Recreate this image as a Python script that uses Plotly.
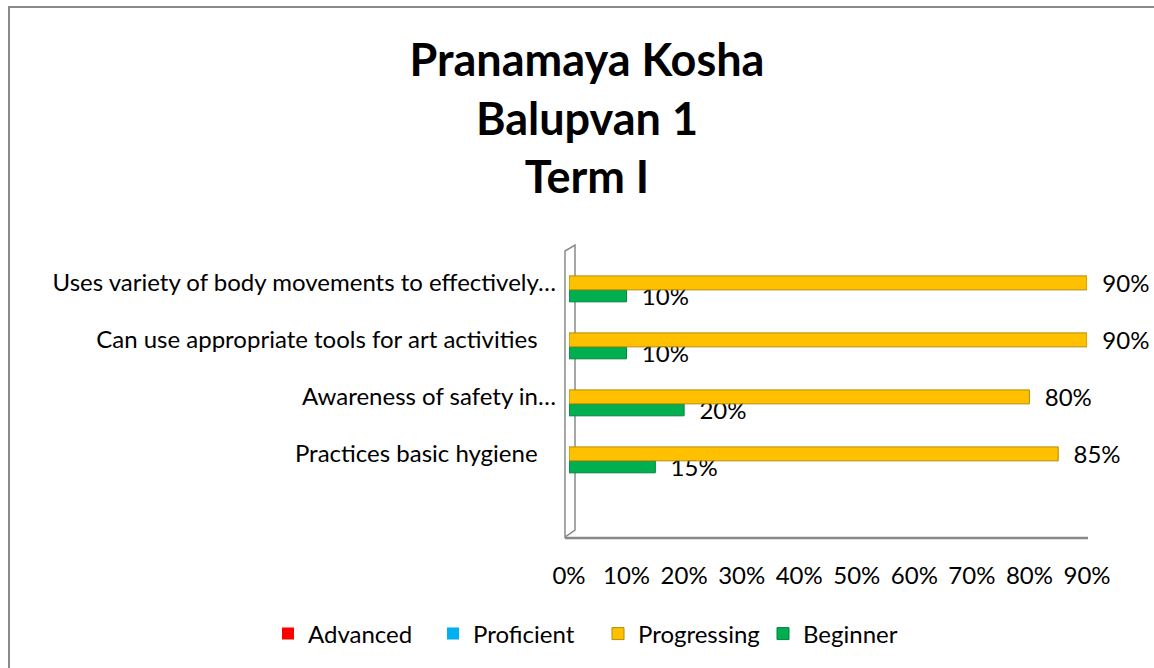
import plotly.graph_objects as go

# ---- data ----
categories = [
    "Practices basic hygiene\u00a0\u00a0\u00a0",
    "Awareness of safety in…",
    "Can use appropriate tools for art activities\u00a0\u00a0\u00a0",
    "Uses variety of body movements to effectively…",
]
advanced = [0, 0, 0, 0]
proficient = [0, 0, 0, 0]
progressing = [0.85, 0.80, 0.90, 0.90]
beginner = [0.15, 0.20, 0.10, 0.10]
x_ticks = [0, 0.1, 0.2, 0.3, 0.4, 0.5, 0.6, 0.7, 0.8, 0.9]
x_tick_labels = ["0%", "10%", "20%", "30%", "40%", "50%", "60%", "70%", "80%", "90%"]

# ---- layout geometry (pixels) ----
WIDTH, HEIGHT = 1154, 668
L, R, T, B = 569, 1087, 245, 537
W, H = R - L, B - T

def px(x):
    return (x - L) / W

def py(y):
    return (B - y) / H

FONT = "Lato"
GRAY = "#8a8a8a"
FS = 24

fig = go.Figure()
fig.add_trace(go.Bar(y=categories, x=advanced, orientation="h", name="Advanced",
                     marker=dict(color="#FF0000", line=dict(width=0)),
                     offset=-0.54, width=0.2, legendrank=1, hoverinfo="skip"))
fig.add_trace(go.Bar(y=categories, x=proficient, orientation="h", name="Proficient",
                     marker=dict(color="#00B0F0", line=dict(width=0)),
                     offset=-0.54, width=0.2, legendrank=2, hoverinfo="skip"))
fig.add_trace(go.Bar(y=categories, x=beginner, orientation="h", name="Beginner",
                     marker=dict(color="#00B050", line=dict(color="#00843C", width=1)),
                     offset=-0.33, width=0.21, legendrank=4,
                     texttemplate="\u00a0\u00a0%{x:.0%}", textposition="outside",
                     textfont=dict(family=FONT, size=FS, color="#000000"),
                     constraintext="none", cliponaxis=False))
fig.add_trace(go.Bar(y=categories, x=progressing, orientation="h", name="Progressing",
                     marker=dict(color="#FFC000", line=dict(color="#B88A00", width=1)),
                     offset=-0.12, width=0.245, legendrank=3,
                     texttemplate="\u00a0\u00a0%{x:.0%}", textposition="outside",
                     textfont=dict(family=FONT, size=FS, color="#000000"),
                     constraintext="none", cliponaxis=False))

shapes = []
# chart border (left and top visible)
shapes.append(dict(type="path", xref="paper", yref="paper",
                   path=f"M {px(9)},{py(700)} L {px(9)},{py(7)} L {px(1170)},{py(7)}",
                   line=dict(color=GRAY, width=2), layer="below"))
# 3D wall
wall = (f"M {px(565)},{py(537)} L {px(565)},{py(251)} L {px(575)},{py(245)} "
        f"L {px(575)},{py(530)} L {px(565)},{py(537)} Z")
shapes.append(dict(type="path", xref="paper", yref="paper", path=wall,
                   line=dict(color=GRAY, width=1.5), fillcolor="rgba(0,0,0,0)", layer="below"))
# floor line
shapes.append(dict(type="line", xref="paper", yref="paper",
                   x0=px(565), y0=py(538), x1=px(1088), y1=py(538),
                   line=dict(color=GRAY, width=2.5), layer="below"))

fig.update_layout(
    width=WIDTH, height=HEIGHT,
    margin=dict(l=L, r=WIDTH - R, t=T, b=HEIGHT - B, autoexpand=False),
    paper_bgcolor="white", plot_bgcolor="white",
    barmode="overlay",
    font=dict(family=FONT, size=FS, color="#000000"),
    title=dict(text="<b>Pranamaya Kosha<br>Balupvan 1<br>Term I</b>",
               font=dict(family=FONT, size=45, color="#000000"),
               x=(412 + 762) / 2 / WIDTH, xanchor="center",
               y=1 - 76 / HEIGHT, yanchor="middle", yref="container"),
    xaxis=dict(range=[0, 0.9], tickvals=x_ticks, ticktext=x_tick_labels,
               showgrid=False, zeroline=False, showline=False, ticks="",
               ticklabelstandoff=22, tickfont=dict(family=FONT, size=FS),
               fixedrange=True),
    yaxis=dict(categoryorder="array", categoryarray=categories,
               range=[-1.456, 3.667], showgrid=False, zeroline=False,
               showline=False, ticks="", ticklabelstandoff=12,
               tickfont=dict(family=FONT, size=FS), fixedrange=True),
    legend=dict(orientation="h", x=px(268), xanchor="left",
                y=py(634), yanchor="middle", font=dict(family=FONT, size=FS),
                entrywidth=120, entrywidthmode="pixels",
                traceorder="normal", bgcolor="rgba(0,0,0,0)"),
    shapes=shapes,
    showlegend=True,
)

fig.write_html("out.html", config={"displayModeBar": False},
               post_script="document.body.style.margin='0px';")
